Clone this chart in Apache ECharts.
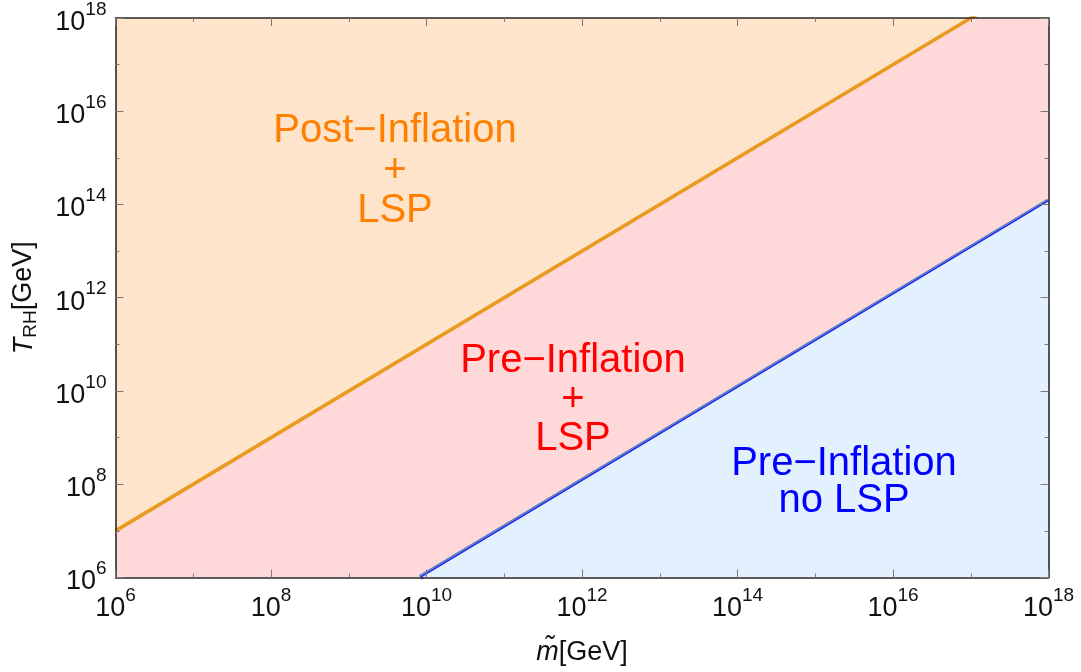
<!DOCTYPE html>
<html>
<head>
<meta charset="utf-8">
<title>Reheating temperature vs soft mass</title>
<script src="https://cdn.jsdelivr.net/npm/echarts@6/dist/echarts.min.js"></script>
<style>
  html, body { margin: 0; padding: 0; background: #ffffff; }
  #chart { width: 1081px; height: 672px; }
</style>
</head>
<body>
<div id="chart"></div>
<script>
// Soft mass m̃ [GeV] and reheating temperature T_RH [GeV] ranges (log axes)
const axisMin = 1e6;
const axisMax = 1e18;

// Post-inflation boundary: T_RH = 10 m̃ (continues past the top edge, clipped)
const postBoundaryM = [1e6, 1e18];
const postBoundaryT = [1e7, 1e19];

// LSP boundary: below this line the LSP is absent
const lspBoundaryM = [8.3e9, 1e18];
const lspBoundaryT = [1e6, 1.2e14];

// Region labels
const regionLabels = [
  { text: 'Post\u2212Inflation\n+\nLSP', color: '#ff8000', x: 395, y: 171, lh: 40 },
  { text: 'Pre\u2212Inflation\n+\nLSP', color: '#ff0000', x: 573, y: 400, lh: 39 },
  { text: 'Pre\u2212Inflation\nno LSP', color: '#0000ff', x: 844, y: 482, lh: 37 }
];

const FONT = "'Liberation Sans', Arial, Helvetica, sans-serif";

const pairs = (xs, ys) => xs.map((x, i) => [x, ys[i]]);

const expLabel = v => '{b|10}{s|' + Math.round(Math.log10(v)) + '}';
const tickRich = {
  b: { fontSize: 27, fontFamily: FONT, color: '#111', lineHeight: 36, verticalAlign: 'bottom' },
  s: { fontSize: 19, fontFamily: FONT, color: '#111', lineHeight: 20, verticalAlign: 'top' }
};

function makeAxis(position, opts) {
  const labelled = opts.labelled;
  const major = opts.major;
  return {
    type: 'log',
    logBase: 10,
    position: position,
    min: axisMin,
    max: axisMax,
    interval: major ? 2 : 1,
    z: 5,
    axisLine: { show: major, onZero: false, lineStyle: { color: '#2a2a2a', width: 1.6 } },
    axisTick: { show: true, inside: true, length: major ? 8 : 4, lineStyle: { color: '#7a7a7a', width: 1 } },
    axisLabel: labelled ? {
      show: true,
      margin: 9,
      formatter: expLabel,
      rich: tickRich
    } : { show: false },
    splitLine: { show: false },
    minorTick: { show: false },
    name: opts.name || '',
    nameLocation: 'middle',
    nameGap: opts.nameGap || 0,
    nameTextStyle: opts.nameTextStyle || {}
  };
}

const chart = echarts.init(document.getElementById('chart'), null, { renderer: 'canvas' });

const option = {
  animation: false,
  backgroundColor: '#ffffff',
  grid: {
    left: 115.5,
    right: 32.5,
    top: 17,
    bottom: 94.5,
    show: true,
    backgroundColor: '#fde4cb',
    borderWidth: 0
  },
  xAxis: [
    makeAxis('bottom', {
      major: true, labelled: true,
      name: '{i|m\u0303}{n|[GeV]}',
      nameGap: 60,
      nameTextStyle: {
        rich: {
          i: { fontSize: 27, fontFamily: FONT, fontStyle: 'italic', color: '#111', lineHeight: 30 },
          n: { fontSize: 27, fontFamily: FONT, color: '#111', lineHeight: 30 }
        }
      }
    }),
    makeAxis('bottom', { major: false, labelled: false }),
    makeAxis('top', { major: true, labelled: false }),
    makeAxis('top', { major: false, labelled: false })
  ],
  yAxis: [
    makeAxis('left', {
      major: true, labelled: true,
      name: '{i|T}{sub|RH}{n|[GeV]}',
      nameGap: 75,
      nameTextStyle: {
        rich: {
          i: { fontSize: 27, fontFamily: FONT, fontStyle: 'italic', color: '#111', lineHeight: 30, verticalAlign: 'top' },
          sub: { fontSize: 19, fontFamily: FONT, color: '#111', lineHeight: 22, verticalAlign: 'bottom' },
          n: { fontSize: 27, fontFamily: FONT, color: '#111', lineHeight: 30, verticalAlign: 'top' }
        }
      }
    }),
    makeAxis('left', { major: false, labelled: false }),
    makeAxis('right', { major: true, labelled: false }),
    makeAxis('right', { major: false, labelled: false })
  ],
  series: [
    {
      // pre-inflation region below the post-inflation boundary
      type: 'line',
      xAxisIndex: 0,
      yAxisIndex: 0,
      data: pairs(postBoundaryM, postBoundaryT),
      showSymbol: false,
      clip: true,
      lineStyle: { width: 0, opacity: 0 },
      areaStyle: { color: '#ffd8d9', opacity: 1, origin: 'start' },
      z: 1
    },
    {
      // post-inflation boundary line
      type: 'line',
      xAxisIndex: 0,
      yAxisIndex: 0,
      data: pairs(postBoundaryM, postBoundaryT),
      showSymbol: false,
      clip: true,
      lineStyle: { color: '#e89b1e', width: 3.5 },
      z: 3
    },
    {
      // LSP boundary line
      type: 'line',
      xAxisIndex: 0,
      yAxisIndex: 0,
      data: pairs(lspBoundaryM, lspBoundaryT),
      showSymbol: false,
      clip: true,
      lineStyle: { color: '#5d80c2', width: 5 },
      z: 2
    },
    {
      // no-LSP region below the LSP boundary
      type: 'line',
      xAxisIndex: 0,
      yAxisIndex: 0,
      data: pairs(lspBoundaryM, lspBoundaryT),
      showSymbol: false,
      clip: true,
      lineStyle: { color: '#1a1aff', width: 1.2 },
      areaStyle: { color: '#e3f0fd', opacity: 1, origin: 'start' },
      z: 3
    }
  ],
  graphic: regionLabels.map(l => ({
    type: 'text',
    x: l.x,
    y: l.y,
    z: 10,
    style: {
      text: l.text,
      fill: l.color,
      fontSize: 40,
      fontFamily: FONT,
      lineHeight: l.lh,
      align: 'center',
      verticalAlign: 'middle'
    }
  }))
};

chart.setOption(option);
</script>
</body>
</html>
